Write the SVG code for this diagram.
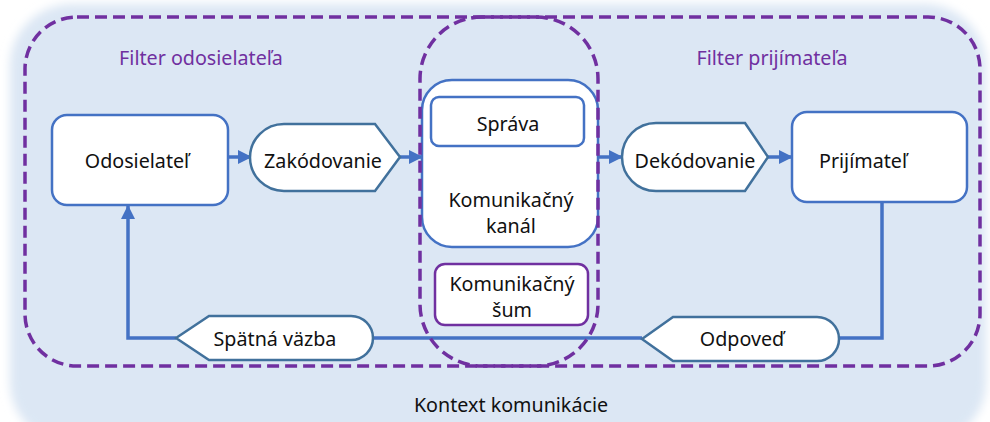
<svg xmlns="http://www.w3.org/2000/svg" width="990" height="422" viewBox="0 0 990 422">
  <defs>
    <filter id="soft" x="-5%" y="-5%" width="110%" height="110%">
      <feGaussianBlur stdDeviation="5"/>
    </filter>
    <marker id="arrow" markerUnits="userSpaceOnUse" markerWidth="14" markerHeight="14" refX="13" refY="7" orient="auto">
      <path d="M0,0 L14,7 L0,14 Z" fill="#4472c4"/>
    </marker>
    <style>
      text { font-family: "Noto Sans", "Open Sans", sans-serif; font-size: 19.7px; fill: #111111; text-anchor: middle; }
      .filter-label { fill: #7030a0; }
      .box { fill: #ffffff; stroke: #4472c4; stroke-width: 2.5; }
      .tag { fill: #ffffff; stroke: #41719c; stroke-width: 2.5; }
      .noise { fill: #ffffff; stroke: #7030a0; stroke-width: 2.5; }
      .dashed { fill: none; stroke: #7030a0; stroke-width: 3.5; stroke-dasharray: 12 6; }
      .link { fill: none; stroke: #4472c4; stroke-width: 3.5; }
    </style>
  </defs>

  <!-- communication context backdrop -->
  <rect width="990" height="422" fill="#ffffff"/>
  <rect x="10" y="4" width="976" height="440" rx="62" fill="#dce7f4" filter="url(#soft)"/>
  <text x="511" y="412">Kontext komunikácie</text>

  <!-- sender / receiver filter region -->
  <g id="filters">
    <rect class="dashed" x="25" y="17" width="955" height="349" rx="52"/>
    <text class="filter-label" x="201" y="65">Filter odosielateľa</text>
    <text class="filter-label" x="772" y="65">Filter prijímateľa</text>
  </g>

  <!-- connectors -->
  <g id="connectors">
    <line class="link" x1="228" y1="157" x2="251" y2="157" marker-end="url(#arrow)"/>
    <line class="link" x1="400" y1="157" x2="422" y2="157" marker-end="url(#arrow)"/>
    <line class="link" x1="598" y1="157" x2="622" y2="157" marker-end="url(#arrow)"/>
    <line class="link" x1="768" y1="157" x2="792" y2="157" marker-end="url(#arrow)"/>
    <polyline class="link" points="882,202 882,338 839,338"/>
    <line class="link" x1="642" y1="338" x2="373" y2="338"/>
    <polyline class="link" points="176,338 128,338 128,206" marker-end="url(#arrow)"/>
  </g>

  <g id="sender">
    <rect class="box" x="52" y="115" width="176" height="90" rx="15"/>
    <text x="137" y="168">Odosielateľ</text>
  </g>

  <g id="encoding">
    <path class="tag" d="M375,124 L400,157 L375,191 L284,191 A34,33.5 0 0 1 284,124 Z"/>
    <text x="323" y="168">Zakódovanie</text>
  </g>

  <g id="channel">
    <rect class="box" x="422" y="80" width="176" height="167" rx="30"/>
    <text x="511" y="207">Komunikačný</text>
    <text x="511" y="233">kanál</text>
  </g>

  <g id="message">
    <rect class="box" x="431" y="97" width="153" height="49" rx="8"/>
    <text x="508" y="131">Správa</text>
  </g>

  <g id="noise">
    <rect class="noise" x="435" y="264" width="153" height="61" rx="10"/>
    <text x="512" y="291">Komunikačný</text>
    <text x="512" y="317">šum</text>
  </g>

  <!-- channel filter region -->
  <g id="channel-filter">
    <rect class="dashed" x="420" y="17" width="178" height="349" rx="62"/>
  </g>

  <g id="decoding">
    <path class="tag" d="M745,123 L768,157 L745,191 L656,191 A34,34 0 0 1 656,123 Z"/>
    <text x="695" y="168">Dekódovanie</text>
  </g>

  <g id="receiver">
    <rect class="box" x="792" y="112" width="175" height="90" rx="15"/>
    <text x="863" y="168">Prijímateľ</text>
  </g>

  <g id="response">
    <path class="tag" d="M642,339 L673,317 L817,317 A22,22 0 0 1 817,361 L673,361 Z"/>
    <text x="742" y="346">Odpoveď</text>
  </g>

  <g id="feedback">
    <path class="tag" d="M176,338 L209,316 L351,316 A22,22 0 0 1 351,360 L209,360 Z"/>
    <text x="275" y="346">Spätná väzba</text>
  </g>
</svg>
